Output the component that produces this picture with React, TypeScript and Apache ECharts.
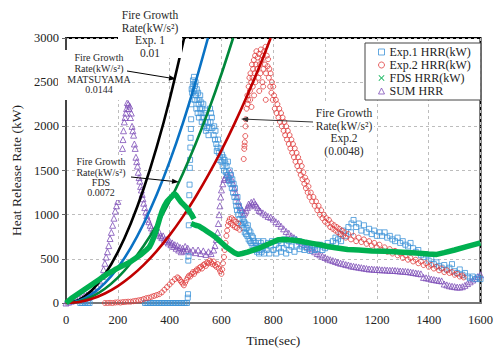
import React, { useEffect, useRef } from 'react';
import * as echarts from 'echarts';

const xTicks = [0, 200, 400, 600, 800, 1000, 1200, 1400, 1600];
const yTicks = [0, 500, 1000, 1500, 2000, 2500, 3000];

// Exp.1 HRR (kW) — blue squares
const exp1Data: number[][] = [
  [55, 0], [61, 0], [67, 0], [73, 0], [79, 0], [85, 0], [91, 0],
  [305, 0], [311, 0], [317, 0], [323, 0], [329, 0], [335, 0], [341, 0], [347, 0], [353, 0], [359, 0], [365, 0],
  [371, 0], [377, 0], [383, 0], [389, 0], [395, 0], [401, 0], [407, 0], [413, 0], [419, 0], [425, 0], [431, 0],
  [437, 0], [443, 0], [449, 0], [455, 0], [461, 0], [467, 0],
  [470, 60], [471, 100], [472, 480], [473, 530], [474, 880], [475, 1040], [476, 1220], [477, 1340], [478, 1530],
  [479, 1620], [480, 1760], [481, 1870], [482, 1970], [483, 2080], [484, 2250], [485, 2420],
  [487, 2380], [489, 2450], [490, 2520], [492, 2480], [494, 2560], [495, 2400], [497, 2300], [498, 2460],
  [500, 2500], [502, 2350], [503, 2200], [505, 2420], [507, 2300], [508, 2150], [510, 2380], [512, 2250],
  [513, 2100], [515, 2300], [517, 2200], [518, 2350], [520, 2150], [522, 2270], [524, 2050], [526, 2200],
  [528, 2100], [530, 2250], [532, 2000], [534, 2150], [536, 2050], [538, 2180], [540, 1950], [543, 2100],
  [545, 1980], [548, 2050], [550, 1900], [553, 1980], [556, 2200], [558, 2050], [560, 2150], [563, 2100],
  [565, 1980], [570, 1900], [572, 2000], [575, 1850], [577, 1950], [580, 1800], [582, 1720], [585, 1760],
  [587, 1850], [590, 1700], [592, 1620], [595, 1650], [597, 1750], [600, 1600], [602, 1680], [605, 1550],
  [607, 1650], [610, 1500], [612, 1620], [615, 1580], [617, 1480], [620, 1550], [622, 1450], [625, 1600],
  [627, 1420], [630, 1380], [632, 1500], [635, 1350], [637, 1450], [640, 1300], [642, 1400], [645, 1250],
  [647, 1350], [650, 1200], [652, 1300], [655, 1150], [657, 1100], [660, 1050], [662, 1200], [665, 1000],
  [667, 1100], [670, 950], [672, 1050], [675, 900], [677, 1000], [680, 880], [682, 950], [685, 850],
  [687, 920], [690, 800], [692, 900], [695, 780], [697, 850], [700, 760], [702, 880], [705, 720], [707, 820],
  [710, 700], [712, 800], [715, 680], [717, 760], [720, 650], [722, 740], [725, 700], [727, 620], [730, 600],
  [732, 680], [735, 650], [737, 580], [740, 620], [742, 700], [745, 560], [747, 640], [750, 600], [752, 680],
  [755, 580], [760, 620], [762, 700], [765, 560], [770, 650], [775, 600], [780, 680], [785, 560], [790, 640],
  [795, 700], [800, 600], [810, 660], [812, 560], [820, 700], [822, 620], [830, 580], [832, 680], [840, 620],
  [842, 720], [850, 560], [852, 660], [860, 700], [862, 600], [870, 640], [880, 720], [882, 580], [890, 650],
  [900, 700], [902, 610], [910, 640], [920, 600], [922, 680], [930, 620], [940, 660], [942, 590], [950, 620],
  [960, 640], [962, 600], [970, 610], [980, 660], [990, 600], [992, 640], [1000, 620], [1010, 680],
  [1020, 640], [1030, 700], [1040, 740], [1042, 680], [1050, 720], [1060, 780], [1062, 700], [1070, 820],
  [1080, 760], [1090, 860], [1100, 800], [1102, 900], [1110, 940], [1120, 860], [1130, 900], [1140, 820],
  [1150, 880], [1160, 800], [1170, 840], [1180, 780], [1190, 820], [1200, 760], [1210, 800], [1220, 760],
  [1230, 800], [1240, 740], [1250, 760], [1260, 720], [1270, 700], [1280, 740], [1290, 680], [1300, 700],
  [1310, 660], [1320, 640], [1330, 680], [1340, 620], [1350, 580], [1360, 600], [1370, 540], [1380, 520],
  [1390, 550], [1400, 480], [1410, 500], [1420, 440], [1430, 460], [1440, 420], [1450, 400], [1460, 430],
  [1470, 380], [1480, 400], [1490, 440], [1500, 360], [1510, 340], [1520, 380], [1530, 320], [1540, 340],
  [1550, 300], [1560, 280], [1570, 300], [1580, 270], [1590, 290], [1600, 270],
];

// Exp.2 HRR (kW) — red circles
const exp2Data: number[][] = [
  [150, 0], [160, 0], [170, 2], [180, 0], [190, 5], [200, 8], [210, 5], [220, 10], [230, 12], [240, 15],
  [250, 15], [260, 20], [270, 25], [280, 30], [290, 35], [300, 45], [310, 55], [320, 60], [330, 70],
  [340, 80], [350, 90], [360, 100], [370, 120], [380, 150], [390, 180], [400, 210], [410, 240], [420, 270],
  [430, 290], [435, 280], [440, 260], [445, 240], [450, 220], [455, 200], [460, 230], [465, 260], [470, 290],
  [475, 310], [480, 300], [485, 330], [490, 350], [495, 330], [500, 360], [505, 380], [510, 370], [515, 400],
  [520, 410], [525, 390], [530, 430], [535, 440], [540, 420], [545, 460], [550, 450], [555, 480], [560, 460],
  [565, 440], [570, 470], [575, 430], [580, 410], [585, 440], [590, 390], [595, 360], [600, 330], [603, 380],
  [606, 450], [610, 520], [613, 600], [616, 680], [619, 760], [622, 820], [625, 880], [628, 920], [632, 950],
  [636, 900], [640, 960], [644, 880], [648, 940], [652, 860], [656, 920], [660, 850], [665, 900], [670, 830],
  [686, 1630], [688, 1745], [689, 1780], [690, 1820], [692, 1890], [693, 2000], [694, 2080],
  [697, 2200], [700, 2350], [701, 2250], [703, 2300], [705, 2450], [708, 2550], [710, 2400], [711, 2300],
  [712, 2600], [715, 2500], [716, 2220], [718, 2700], [720, 2550], [721, 2450], [722, 2650], [725, 2750],
  [726, 2350], [728, 2600], [730, 2800], [731, 2500], [733, 2700], [735, 2850], [738, 2650], [740, 2780],
  [743, 2550], [745, 2820], [746, 2400], [748, 2700], [750, 2600], [752, 2870], [755, 2750], [758, 2500],
  [760, 2800], [761, 2450], [762, 2650], [765, 2850], [768, 2700], [770, 2900], [771, 2300], [772, 2600],
  [775, 2800], [778, 2680], [780, 2760], [783, 2550], [785, 2650], [788, 2450], [790, 2600], [793, 2380],
  [795, 2500], [798, 2300], [800, 2450], [803, 2350], [806, 2200], [810, 2300], [813, 2150], [816, 2250],
  [820, 2100], [823, 2200], [826, 2050], [830, 2150], [833, 2000], [836, 2100], [840, 1950], [843, 2050],
  [846, 1900], [850, 2000], [853, 1850], [856, 1950], [860, 1800], [863, 1900], [866, 1750], [870, 1850],
  [873, 1700], [876, 1800], [880, 1650], [883, 1750], [886, 1600], [890, 1700], [893, 1550], [896, 1650],
  [900, 1500], [903, 1600], [906, 1450], [910, 1550], [913, 1400], [916, 1480], [920, 1350], [923, 1420],
  [926, 1300], [930, 1380], [933, 1250], [936, 1320], [940, 1200], [945, 1250], [950, 1150], [955, 1200],
  [960, 1100], [965, 1150], [970, 1050], [975, 1100], [980, 1000], [985, 1050], [990, 960], [995, 1000],
  [1000, 920], [1005, 960], [1010, 900], [1015, 940], [1020, 860], [1025, 900], [1030, 840], [1035, 880],
  [1040, 820], [1045, 860], [1050, 800], [1055, 840], [1060, 780], [1065, 820], [1070, 760], [1075, 800],
  [1080, 740], [1090, 780], [1100, 720], [1110, 760], [1120, 700], [1130, 740], [1140, 690], [1150, 720],
  [1160, 670], [1170, 700], [1180, 650], [1190, 680], [1200, 630], [1210, 660], [1220, 600], [1230, 630],
  [1240, 580], [1250, 610], [1260, 560], [1270, 590], [1280, 540], [1290, 560], [1300, 510], [1310, 540],
  [1320, 490], [1330, 510], [1340, 470], [1350, 490], [1360, 450], [1370, 470], [1380, 430], [1390, 450],
  [1400, 410], [1410, 430], [1420, 390], [1430, 410], [1440, 370], [1450, 390], [1460, 350], [1470, 370],
  [1480, 340], [1490, 350], [1500, 320], [1510, 330], [1520, 300], [1530, 310], [1535, 290],
];

// FDS HRR (kW) — green band (null marks the gap)
const fdsData: (number[] | null)[] = [
  [0, 0], [10, 25], [20, 50], [30, 70], [40, 90], [50, 110], [60, 130], [70, 150], [80, 170], [90, 190],
  [100, 210], [110, 230], [120, 250], [130, 270], [140, 290], [150, 310], [160, 330], [170, 345], [180, 360],
  [190, 380], [200, 395], [210, 410], [220, 425], [233, 440], [250, 470], [270, 510], [290, 550], [310, 600],
  [321, 630], [330, 680], [340, 750], [348, 820], [356, 900], [363, 970], [371, 1040], [380, 1100],
  [390, 1150], [400, 1180], [410, 1210], [418, 1240], [425, 1220], [435, 1180], [445, 1140], [455, 1110],
  [465, 1080], [475, 1040], [485, 1000], [494, 950],
  null,
  [483, 900], [500, 880], [513, 870], [530, 840], [545, 810], [560, 780], [575, 750], [590, 710], [605, 670],
  [620, 630], [635, 600], [650, 570], [665, 550], [680, 560], [700, 575], [720, 595], [740, 615], [760, 640],
  [780, 665], [800, 690], [819, 716], [840, 720], [860, 715], [880, 710], [896, 705], [920, 690], [950, 675],
  [980, 660], [1010, 640], [1040, 625], [1087, 605], [1130, 600], [1180, 590], [1230, 585], [1266, 580],
  [1300, 575], [1350, 565], [1400, 555], [1431, 550], [1460, 570], [1500, 600], [1550, 640], [1600, 680],
];

// SUM HRR — purple triangles
const sumData: number[][] = [
  [0, 0], [10, 10], [20, 20], [30, 30], [40, 40], [50, 55], [60, 65], [70, 80], [80, 90], [90, 100],
  [100, 120], [110, 150], [120, 190], [130, 250], [140, 300], [145, 380], [150, 450], [155, 520], [160, 580],
  [165, 650], [170, 730], [175, 800], [180, 880], [185, 960], [190, 1040], [195, 1100], [200, 1150],
  [205, 1200], [208, 1350], [212, 1500], [215, 1650], [218, 1750], [220, 1850], [222, 1950], [225, 2050],
  [228, 2100], [231, 2150], [234, 2200], [237, 2270], [240, 2250], [243, 2200], [246, 2230], [249, 2100],
  [252, 2150], [255, 2000], [258, 1950], [261, 1900], [264, 1800], [267, 1750], [270, 1650], [273, 1600],
  [276, 1550], [279, 1480], [282, 1420], [285, 1380], [288, 1320], [291, 1280], [294, 1230], [297, 1180],
  [300, 1130], [304, 1080], [308, 1030], [312, 990], [316, 950], [320, 920], [325, 880], [330, 850],
  [335, 820], [340, 800], [345, 820], [350, 790], [355, 770], [360, 800], [365, 760], [370, 740], [375, 760],
  [380, 720], [385, 700], [390, 720], [395, 680], [400, 700], [405, 660], [410, 680], [415, 640], [420, 660],
  [425, 620], [430, 650], [435, 600], [440, 630], [445, 580], [450, 620], [455, 590], [460, 640], [465, 600],
  [470, 620], [480, 580], [490, 600], [500, 570], [510, 600], [520, 560], [530, 590], [540, 550], [550, 580],
  [560, 560], [570, 600], [575, 650], [580, 720], [585, 800], [588, 900], [591, 1000], [594, 1100],
  [597, 1200], [600, 1280], [605, 1350], [610, 1400], [615, 1420], [620, 1450], [625, 1400], [630, 1430],
  [635, 1480], [640, 1400], [645, 1350], [650, 1300], [655, 1250], [660, 1200], [665, 1150], [670, 1100],
  [675, 1080], [680, 1050], [685, 1000], [690, 1020], [695, 1050], [700, 1080], [705, 1120], [710, 1100],
  [715, 1140], [720, 1120], [725, 1150], [730, 1120], [735, 1100], [740, 1080], [745, 1050], [750, 1040],
  [760, 1020], [770, 1000], [780, 980], [790, 970], [800, 950], [810, 920], [820, 900], [830, 870],
  [840, 840], [850, 810], [860, 790], [870, 760], [880, 740], [890, 720], [900, 700], [910, 680], [920, 660],
  [930, 640], [940, 620], [950, 600], [960, 580], [970, 560], [980, 545], [990, 530], [1000, 515],
  [1010, 500], [1020, 490], [1030, 480], [1040, 470], [1050, 460], [1060, 450], [1070, 445], [1080, 435],
  [1090, 430], [1100, 420], [1110, 415], [1120, 410], [1130, 405], [1140, 400], [1150, 395], [1160, 390],
  [1170, 385], [1180, 385], [1190, 380], [1200, 380], [1210, 378], [1220, 375], [1230, 375], [1240, 372],
  [1250, 370], [1260, 370], [1270, 368], [1280, 365], [1290, 362], [1300, 360], [1310, 358], [1320, 355],
  [1330, 350], [1340, 345], [1350, 340], [1360, 335], [1370, 330], [1380, 290], [1390, 285], [1400, 280],
  [1410, 270], [1420, 265], [1430, 260], [1440, 255], [1450, 250], [1460, 215], [1470, 205], [1480, 195],
  [1490, 190], [1500, 185], [1510, 180], [1520, 180], [1530, 185], [1540, 200], [1550, 220], [1560, 240],
  [1570, 260], [1580, 280], [1590, 300], [1600, 320],
];

// Fire growth curves
const curveMatsuyama: number[][] = [
  [0, 0], [50, 36], [100, 144], [150, 324], [200, 576], [250, 900], [300, 1296], [350, 1764], [400, 2304], [456, 3000],
];
const curveExp1: number[][] = [
  [0, 0], [50, 25], [100, 100], [150, 225], [200, 400], [250, 625], [300, 900], [350, 1225], [400, 1600],
  [450, 2025], [500, 2500], [548, 3000],
];
const curveFds: number[][] = [
  [0, 0], [50, 18], [100, 72], [150, 162], [200, 288], [250, 450], [300, 648], [350, 882], [400, 1152],
  [450, 1458], [500, 1800], [550, 2178], [600, 2592], [645, 3000],
];
const curveExp2: number[][] = [
  [0, 0], [50, 12], [100, 48], [150, 108], [200, 192], [250, 300], [300, 432], [350, 588], [400, 768],
  [450, 972], [500, 1200], [550, 1452], [600, 1728], [650, 2028], [700, 2352], [750, 2700], [790, 3000],
];

const FONT = 'Liberation Serif';
const C_EXP1 = '#3f93d8';
const C_EXP2 = '#e03c3c';
const C_FDS = '#00b050';
const C_SUM = '#7e4fb8';

function arrow(x1: number, y1: number, x2: number, y2: number, color: string) {
  const dx = x2 - x1, dy = y2 - y1;
  const L = Math.hypot(dx, dy);
  const ux = dx / L, uy = dy / L;
  const hl = 7, hw = 2.6;
  const bx = x2 - ux * hl, by = y2 - uy * hl;
  return [
    { type: 'line', z: 100, shape: { x1, y1, x2: bx, y2: by }, style: { stroke: color, lineWidth: 1 } },
    {
      type: 'polygon', z: 100,
      shape: { points: [[x2, y2], [bx - uy * hw, by + ux * hw], [bx + uy * hw, by - ux * hw]] },
      style: { fill: color },
    },
  ];
}

function label(text: string, x: number, y: number, size: number, lh: number) {
  return {
    type: 'text', z: 101, x, y,
    style: { text, fontSize: size, fontFamily: FONT, align: 'center', verticalAlign: 'top', lineHeight: lh, fill: '#2a2a2a' },
  };
}

function whiteBox(x: number, y: number, w: number, h: number) {
  return { type: 'rect', z: 99, shape: { x, y, width: w, height: h }, style: { fill: '#fff' } };
}

const xfdsIcon = 'path://M0,1L1,0L5,4L9,0L10,1L6,5L10,9L9,10L5,6L1,10L0,9L4,5Z';

export default function App() {
  const ref = useRef<HTMLDivElement>(null);
  useEffect(() => {
    const chart = echarts.init(ref.current!, null, { renderer: 'svg' });
    const curve = (data: number[][], color: string) => ({
      type: 'line', data, smooth: 0.3, symbol: 'none', z: 3, silent: true,
      lineStyle: { color, width: 2.6 }, itemStyle: { color },
    });
    const option: any = {
      animation: false,
      backgroundColor: '#fff',
      textStyle: { fontFamily: FONT },
      grid: { left: 66, right: 11, top: 38, bottom: 46, show: true, borderColor: '#000', borderWidth: 2 },
      xAxis: {
        type: 'value', min: xTicks[0], max: xTicks[xTicks.length - 1], interval: 200,
        name: 'Time(sec)', nameLocation: 'middle', nameGap: 30,
        nameTextStyle: { fontFamily: FONT, fontSize: 13.5, color: '#222' },
        axisLine: { show: true, lineStyle: { color: '#777', width: 2 } },
        axisTick: { show: false },
        axisLabel: { fontFamily: FONT, fontSize: 12.5, color: '#222', margin: 10, formatter: (v: number) => String(v) },
        splitLine: { show: true, lineStyle: { color: '#bdbdbd', type: [3, 3], width: 1 } },
      },
      yAxis: {
        type: 'value', min: yTicks[0], max: yTicks[yTicks.length - 1], interval: 500,
        name: 'Heat Release Rate (kW)', nameLocation: 'middle', nameGap: 42,
        nameTextStyle: { fontFamily: FONT, fontSize: 13.5, color: '#222' },
        axisLine: { show: true, lineStyle: { color: '#444', width: 2 } },
        axisTick: { show: true, length: 4, lineStyle: { color: '#666' } },
        axisLabel: { fontFamily: FONT, fontSize: 12.5, color: '#222', margin: 7, formatter: (v: number) => String(v) },
        splitLine: { show: true, lineStyle: { color: '#bdbdbd', type: [3, 3], width: 1 } },
      },
      legend: {
        orient: 'vertical', left: 365, top: 43,
        backgroundColor: '#fff', borderColor: '#444', borderWidth: 1,
        padding: [3, 10, 3, 13], itemGap: 1, itemWidth: 6, itemHeight: 6,
        textStyle: { fontFamily: FONT, fontSize: 12, color: '#222', lineHeight: 12 },
        data: [
          { name: 'Exp.1 HRR(kW)', icon: 'rect', itemStyle: { color: 'rgba(0,0,0,0)', borderColor: C_EXP1, borderWidth: 1 } },
          { name: 'Exp.2 HRR(kW)', icon: 'circle', itemStyle: { color: 'rgba(0,0,0,0)', borderColor: C_EXP2, borderWidth: 1 } },
          { name: 'FDS HRR(kW)', icon: xfdsIcon, itemStyle: { color: C_FDS, borderWidth: 0 } },
          { name: 'SUM HRR', icon: 'triangle', itemStyle: { color: 'rgba(0,0,0,0)', borderColor: C_SUM, borderWidth: 1 } },
        ],
      },
      series: [
        {
          name: 'SUM HRR', type: 'scatter', data: sumData, symbol: 'triangle', symbolSize: 6, z: 2,
          itemStyle: { color: 'rgba(0,0,0,0)', borderColor: C_SUM, borderWidth: 1 },
        },
        {
          name: 'Exp.1 HRR(kW)', type: 'scatter', data: exp1Data, symbol: 'rect', symbolSize: 5, z: 2,
          itemStyle: { color: 'rgba(0,0,0,0)', borderColor: C_EXP1, borderWidth: 1 },
        },
        {
          name: 'Exp.2 HRR(kW)', type: 'scatter', data: exp2Data, symbol: 'circle', symbolSize: 5, z: 2,
          itemStyle: { color: 'rgba(0,0,0,0)', borderColor: C_EXP2, borderWidth: 1 },
        },
        curve(curveMatsuyama, '#000000'),
        curve(curveExp1, '#0a72c4'),
        curve(curveFds, '#00873a'),
        curve(curveExp2, '#c00000'),
        {
          name: 'FDS HRR(kW)', type: 'line', data: fdsData, symbol: 'none', connectNulls: false, z: 4,
          lineStyle: { color: C_FDS, width: 5.5 }, itemStyle: { color: C_FDS },
        },
      ],
      graphic: [
        whiteBox(118, 0, 64, 58),
        label('Fire Growth\nRate(kW/s²)\nExp. 1\n0.01', 150, 9, 11.5, 12.5),
        whiteBox(58, 50, 72, 50),
        label('Fire Growth\nRate(kW/s²)\nMATSUYAMA\n0.0144', 99, 52.5, 10, 10.7),
        ...arrow(127, 71, 176, 79, '#000'),
        whiteBox(75, 155, 55, 45),
        label('Fire Growth\nRate(kW/s²)\nFDS\n0.0072', 101, 156.5, 10, 10.4),
        ...arrow(131, 177, 179, 182, '#000'),
        whiteBox(314, 104, 60, 54),
        label('Fire Growth\nRate(kW/s²)\nExp.2\n(0.0048)', 344, 106.5, 11.5, 12.7),
        ...arrow(313, 122, 241, 119, '#333'),
      ],
    };
    chart.setOption(option);
    return () => chart.dispose();
  }, []);
  return (
    <div
      ref={ref}
      style={{ position: 'fixed', left: 0, top: 0, width: 496, height: 352, background: '#fff' }}
    />
  );
}
